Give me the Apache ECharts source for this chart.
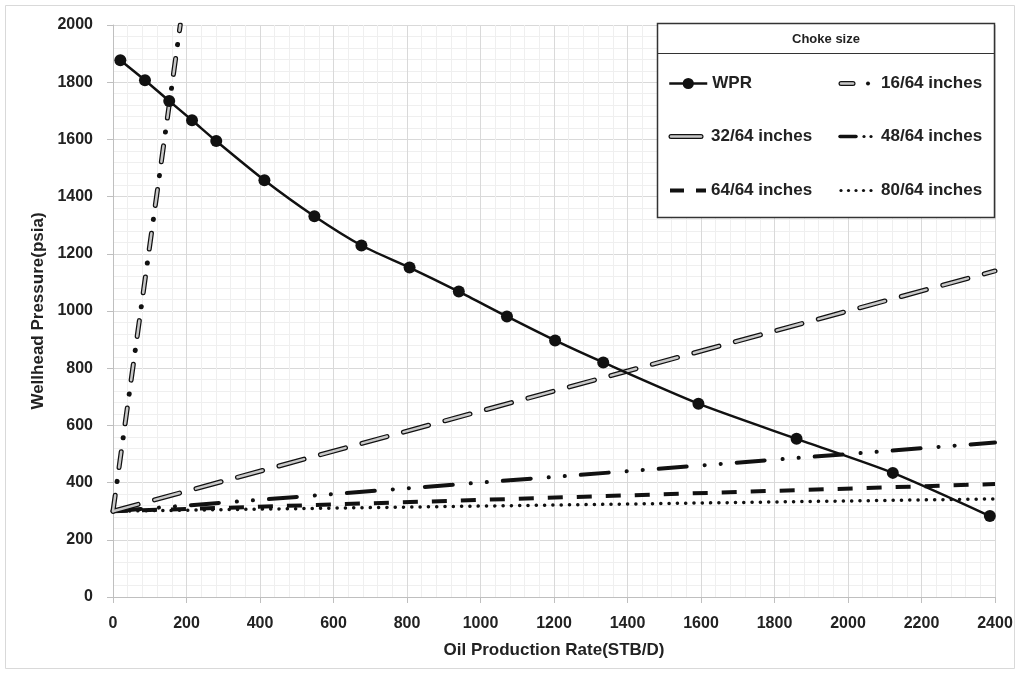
<!DOCTYPE html>
<html><head><meta charset="utf-8">
<script src="https://cdn.jsdelivr.net/npm/echarts@6/dist/echarts.min.js"></script>
<style>html,body{margin:0;padding:0;background:#fff}#c{width:1020px;height:674px}</style>
</head><body><div id="c"></div>
<script>
// ---- data ----
const wprRate = [20, 87, 153, 215, 281, 412, 548, 676, 807, 941, 1072, 1203, 1334, 1593, 1860, 2122, 2386];
const wprPressure = [1877, 1807, 1734, 1667, 1594, 1457, 1331, 1229, 1152, 1068, 981, 897, 820, 676, 553, 434, 283];
const choke16Rate = [0, 183];
const choke16Pressure = [300, 2000];
const choke32Rate = [0, 2400];
const choke32Pressure = [300, 1140];
const choke48Rate = [0, 2400];
const choke48Pressure = [300, 540];
const choke64Rate = [0, 2400];
const choke64Pressure = [300, 395];
const choke80Rate = [0, 2400];
const choke80Pressure = [300, 343];
const xMin = 0, xMax = 2400, xStep = 200;
const yMin = 0, yMax = 2000, yStep = 200;
const legendTitle = 'Choke size';
const names = ['WPR', '16/64 inches', '32/64 inches', '48/64 inches', '64/64 inches', '80/64 inches'];

const zip = (a, b) => a.map((v, i) => [v, b[i]]);
const FONT = '"Liberation Sans", Arial, sans-serif';

function svgIcon(body) {
  const svg = '<svg xmlns="http://www.w3.org/2000/svg" width="38" height="14" viewBox="0 0 38 14">' + body + '</svg>';
  return 'image://data:image/svg+xml;charset=utf-8,' + encodeURIComponent(svg);
}
const icon16 = svgIcon('<line x1="3" y1="7" x2="15" y2="7" stroke="#111" stroke-width="5" stroke-linecap="round"/><line x1="3" y1="7" x2="15" y2="7" stroke="#c8c8c8" stroke-width="2.5" stroke-linecap="round"/><circle cx="30" cy="7" r="2" fill="#111"/>');
const icon32 = svgIcon('<line x1="3" y1="7" x2="33" y2="7" stroke="#111" stroke-width="5" stroke-linecap="round"/><line x1="3" y1="7" x2="33" y2="7" stroke="#c8c8c8" stroke-width="2.5" stroke-linecap="round"/>');
const icon48 = svgIcon('<line x1="2" y1="7" x2="18" y2="7" stroke="#111" stroke-width="3.5" stroke-linecap="round"/><circle cx="26" cy="7" r="1.6" fill="#111"/><circle cx="33" cy="7" r="1.6" fill="#111"/>');
const icon64 = svgIcon('<line x1="2" y1="7" x2="16" y2="7" stroke="#111" stroke-width="4"/><line x1="28" y1="7" x2="38" y2="7" stroke="#111" stroke-width="4"/>');
const icon80 = svgIcon('<circle cx="3" cy="7" r="1.6" fill="#111"/><circle cx="10.5" cy="7" r="1.6" fill="#111"/><circle cx="18" cy="7" r="1.6" fill="#111"/><circle cx="25.5" cy="7" r="1.6" fill="#111"/><circle cx="33" cy="7" r="1.6" fill="#111"/>');

const chart = echarts.init(document.getElementById('c'), null, {renderer: 'canvas'});

function lineSeries(name, data, ls, z) {
  return {
    name, type: 'line', data, symbol: 'none', z: z || 2,
    lineStyle: Object.assign({color: '#111'}, ls),
    itemStyle: {color: '#111'},
    emphasis: {disabled: true}, silent: true, animation: false
  };
}

const legendPos = [
  [668, 75], [838, 75],
  [668, 128], [838, 128],
  [668, 182], [838, 182]
];
const legendIcons = [null, icon16, icon32, icon48, icon64, icon80];
const legends = names.map((n, i) => ({
  data: [legendIcons[i] ? {name: n, icon: legendIcons[i]} : {name: n}],
  left: legendPos[i][0], top: legendPos[i][1],
  padding: 0, itemWidth: 38, itemHeight: 14, itemGap: 5,
  selectedMode: false, z: 100,
  lineStyle: {width: 'inherit'},
  textStyle: {fontFamily: FONT, fontWeight: 'bold', fontSize: 17, color: '#222', lineHeight: 14}
}));

const plainNum = v => String(v);

const option = {
  backgroundColor: '#fff',
  animation: false,
  grid: {left: 113, right: 25, top: 25, bottom: 77, containLabel: false},
  xAxis: {
    type: 'value', min: xMin, max: xMax, interval: xStep,
    name: 'Oil Production Rate(STB/D)', nameLocation: 'middle', nameGap: 45,
    nameTextStyle: {fontFamily: FONT, fontWeight: 'bold', fontSize: 17, color: '#222'},
    axisLine: {show: true, lineStyle: {color: '#bfbfbf', width: 1}},
    axisTick: {show: true, length: 6, lineStyle: {color: '#bfbfbf'}},
    axisLabel: {fontFamily: FONT, fontWeight: 'bold', fontSize: 16, color: '#222', margin: 19, formatter: plainNum},
    splitLine: {show: true, lineStyle: {color: '#d9d9d9', width: 1}},
    minorTick: {show: false, splitNumber: 5},
    minorSplitLine: {show: true, lineStyle: {color: '#efefef', width: 1}}
  },
  yAxis: {
    type: 'value', min: yMin, max: yMax, interval: yStep,
    name: 'Wellhead Pressure(psia)', nameLocation: 'middle', nameGap: 66,
    nameTextStyle: {fontFamily: FONT, fontWeight: 'bold', fontSize: 17, color: '#222'},
    axisLine: {show: true, lineStyle: {color: '#bfbfbf', width: 1}},
    axisTick: {show: true, length: 6, lineStyle: {color: '#bfbfbf'}},
    axisLabel: {fontFamily: FONT, fontWeight: 'bold', fontSize: 16, color: '#222', margin: 20, formatter: plainNum},
    splitLine: {show: true, lineStyle: {color: '#d9d9d9', width: 1}},
    minorTick: {show: false, splitNumber: 5},
    minorSplitLine: {show: true, lineStyle: {color: '#efefef', width: 1}}
  },
  legend: legends,
  graphic: [
    {type: 'rect', shape: {x: 5.5, y: 5.5, width: 1009, height: 663}, style: {fill: 'none', stroke: '#d9d9d9', lineWidth: 1}, z: -10, silent: true},
    {type: 'rect', shape: {x: 657.5, y: 23.5, width: 337, height: 194}, style: {fill: '#fff', stroke: '#333', lineWidth: 1.5}, z: 50, silent: true},
    {type: 'line', shape: {x1: 657.5, y1: 53.5, x2: 994.5, y2: 53.5}, style: {stroke: '#333', lineWidth: 1.2}, z: 51, silent: true},
    {type: 'text', x: 826, y: 39, style: {text: legendTitle, align: 'center', verticalAlign: 'middle', fontFamily: FONT, fontWeight: 'bold', fontSize: 13, fill: '#222'}, z: 51, silent: true}
  ],
  series: [
    {
      name: 'WPR', type: 'line', data: zip(wprRate, wprPressure), smooth: 0.25,
      symbol: 'circle', symbolSize: 12, z: 10,
      lineStyle: {color: '#111', width: 2.5}, itemStyle: {color: '#111'},
      emphasis: {disabled: true}, silent: true, animation: false
    },
    lineSeries('16/64 inches', zip(choke16Rate, choke16Pressure), {width: 5, type: [16, 14, 0.1, 14], cap: 'round'}, 3),
    lineSeries('16/64 inches', zip(choke16Rate, choke16Pressure), {color: '#c8c8c8', width: 2.5, type: [16, 28.1], cap: 'round'}, 4),
    lineSeries('32/64 inches', zip(choke32Rate, choke32Pressure), {width: 5, type: [26, 17], cap: 'round'}, 3),
    lineSeries('32/64 inches', zip(choke32Rate, choke32Pressure), {color: '#c8c8c8', width: 2.5, type: [26, 17], cap: 'round'}, 4),
    lineSeries('48/64 inches', zip(choke48Rate, choke48Pressure), {width: 4, type: [28, 18, 0.1, 16, 0.1, 16], cap: 'round'}, 3),
    lineSeries('64/64 inches', zip(choke64Rate, choke64Pressure), {width: 4, type: [15, 14], cap: 'butt'}, 3),
    lineSeries('80/64 inches', zip(choke80Rate, choke80Pressure), {width: 3.5, type: [0.1, 8.2], cap: 'round'}, 3)
  ]
};
chart.setOption(option);
</script>
</body></html>
